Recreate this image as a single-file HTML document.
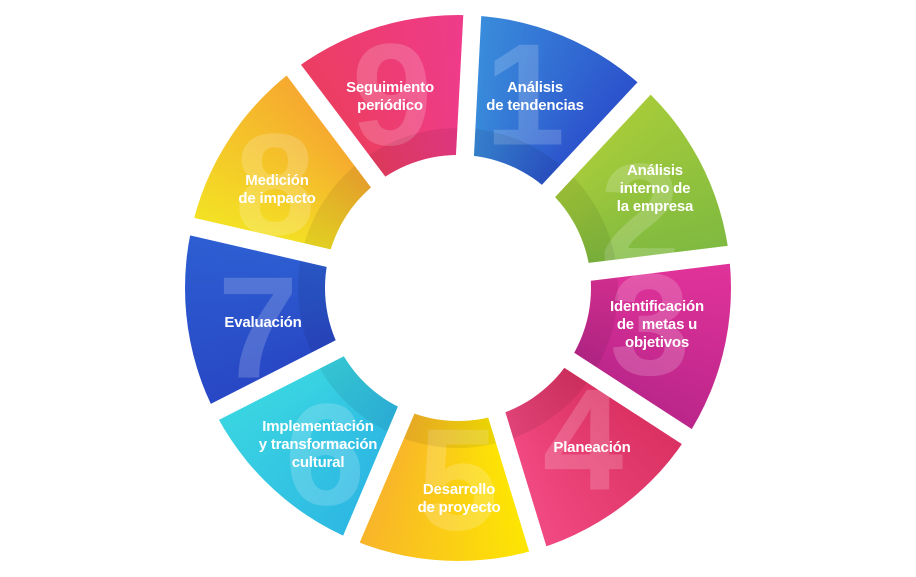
<!DOCTYPE html>
<html><head><meta charset="utf-8"><style>
html,body{margin:0;padding:0;background:#fff;}
#wrap{position:relative;width:916px;height:577px;overflow:hidden;font-family:"Liberation Sans",sans-serif;}
#ring{position:absolute;left:185px;top:15px;width:546px;height:546px;border-radius:50%;
background:conic-gradient(from 3deg,#3a8fdc 0deg,#2b4fcb 40deg,#a8cc3a 40deg,#7db940 80deg,#e2339a 80deg,#b9258a 120deg,#d93060 120deg,#f24a83 160deg,#fde800 160deg,#f8b22c 200deg,#2db7e3 200deg,#3ad6e2 240deg,#2846c4 240deg,#2d5fd2 280deg,#f3e423 280deg,#f6a630 320deg,#ec3e60 320deg,#ef3b8c 360deg);}
#shade{position:absolute;left:298px;top:128px;width:320px;height:320px;border-radius:50%;background:rgba(0,0,0,0.07);}
#hole{position:absolute;left:325px;top:155px;width:266px;height:266px;border-radius:50%;background:#fff;}
.gap{position:absolute;left:449px;top:0px;width:18px;height:288px;background:#fff;transform-origin:9px 288px;}
.num{position:absolute;font-weight:bold;font-size:145px;color:rgba(255,255,255,0.18);transform:translate(-50%,-50%);line-height:1;}
.t{position:absolute;color:#fff;font-weight:bold;font-size:15px;line-height:18px;text-align:center;transform:translate(-50%,-50%);white-space:nowrap;letter-spacing:-0.2px;}
</style></head><body><div id="wrap">
<div id="ring"></div>
<div class="num" style="left:525px;top:95px">1</div>
<div class="num" style="left:640px;top:215px">2</div>
<div class="num" style="left:650px;top:325px">3</div>
<div class="num" style="left:583px;top:440px">4</div>
<div class="num" style="left:458px;top:480px">5</div>
<div class="num" style="left:325px;top:455px">6</div>
<div class="num" style="left:258px;top:328px">7</div>
<div class="num" style="left:275px;top:185px">8</div>
<div class="num" style="left:392px;top:95px">9</div>
<div id="shade"></div>
<div class="gap" style="transform:rotate(3deg)"></div>
<div class="gap" style="transform:rotate(43deg)"></div>
<div class="gap" style="transform:rotate(83deg)"></div>
<div class="gap" style="transform:rotate(123deg)"></div>
<div class="gap" style="transform:rotate(163deg)"></div>
<div class="gap" style="transform:rotate(203deg)"></div>
<div class="gap" style="transform:rotate(243deg)"></div>
<div class="gap" style="transform:rotate(283deg)"></div>
<div class="gap" style="transform:rotate(323deg)"></div>
<div id="hole"></div>
<div class="t" style="left:535px;top:97px">Análisis<br>de tendencias</div>
<div class="t" style="left:655px;top:189px">Análisis<br>interno de<br>la empresa</div>
<div class="t" style="left:657px;top:325px">Identificación<br>de&nbsp; metas u<br>objetivos</div>
<div class="t" style="left:592px;top:448px">Planeación</div>
<div class="t" style="left:459px;top:499px">Desarrollo<br>de proyecto</div>
<div class="t" style="left:318px;top:445px">Implementación<br>y transformación<br>cultural</div>
<div class="t" style="left:263px;top:323px">Evaluación</div>
<div class="t" style="left:277px;top:190px">Medición<br>de impacto</div>
<div class="t" style="left:390px;top:97px">Seguimiento<br>periódico</div>
</div></body></html>
